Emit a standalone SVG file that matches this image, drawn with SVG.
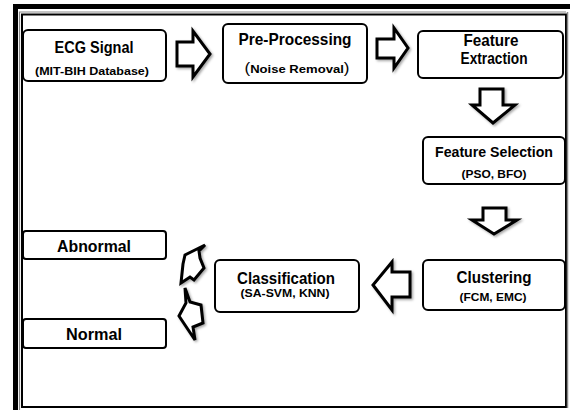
<svg xmlns="http://www.w3.org/2000/svg" width="570" height="410" viewBox="0 0 570 410">
<defs>
<style>
.box{fill:#fff;stroke:#000;stroke-width:2}
.arr{fill:#fff;stroke:#000;stroke-width:3;stroke-linejoin:miter;filter:url(#sh)}
.t{font-family:"Liberation Sans",Arial,sans-serif;font-weight:bold;fill:#000;text-anchor:middle}
.h{font-size:16.5px}
.s{font-size:11.5px}
</style>
<filter id="sh" x="-30%" y="-30%" width="160%" height="160%">
<feDropShadow dx="1.5" dy="1.5" stdDeviation="1" flood-color="#000" flood-opacity="0.35"/>
</filter>
</defs>
<rect width="570" height="410" fill="#fff"/>
<g id="frame">
<path d="M13,6.5 H570 M15.5,4 V410" fill="none" stroke="#000" stroke-width="5"/>
<path d="M19.5,410 V12 H566" fill="none" stroke="#888" stroke-width="1.2"/>
<rect x="22" y="14.5" width="544" height="392.5" fill="none" stroke="#000" stroke-width="2"/>
<path d="M567.5,12 V408" fill="none" stroke="#888" stroke-width="1.5"/>
</g>
<g id="connectors">
<polygon class="arr" points="177,42 193,42 193,31 210,54 193,77 193,66 177,66"/>
<polygon class="arr" points="377,39 394,39 394,28 408,48 394,68 394,58 377,58"/>
<polygon class="arr" points="480,89 503,89 503,105 515,105 493,123 472,105 480,105"/>
<polygon class="arr" points="483,208 506,208 506,220 517,220 494,234 472,220 483,220"/>
<polygon class="arr" points="410,272 392,272 392,262 373,285 392,310 392,297 410,297"/>
<polygon class="arr" points="205,245 185,255 183,264 181,283 190,277 194,280 204,268 200,258 199,251"/>
<polygon class="arr" points="185,288 190,302 201,305 203,323 193,327 195,340 179,316 186,303"/>
</g>
<g id="ecg">
<rect class="box" x="23" y="30" width="143" height="51" rx="5"/>
<text class="t h" x="94" y="53" textLength="79" lengthAdjust="spacingAndGlyphs">ECG Signal</text>
<text class="t s" x="92" y="75" textLength="114" lengthAdjust="spacingAndGlyphs">(MIT-BIH Database)</text>
</g>
<g id="preprocessing">
<rect class="box" x="223" y="24" width="144" height="59" rx="5"/>
<text class="t h" x="295" y="45" textLength="113" lengthAdjust="spacingAndGlyphs">Pre-Processing</text>
<text class="t s" x="297" y="73" textLength="105" lengthAdjust="spacingAndGlyphs"><tspan font-size="15" font-weight="normal">(</tspan>Noise  Removal<tspan font-size="15" font-weight="normal">)</tspan></text>
</g>
<g id="extraction">
<rect class="box" x="418" y="31" width="145" height="47" rx="5"/>
<text class="t h" x="491" y="46" textLength="55" lengthAdjust="spacingAndGlyphs">Feature</text>
<text class="t h" x="494" y="64" textLength="67" lengthAdjust="spacingAndGlyphs">Extraction</text>
</g>
<g id="selection">
<rect class="box" x="423" y="137" width="142" height="47" rx="5"/>
<text class="t" x="494" y="157" style="font-size:14px" textLength="118" lengthAdjust="spacingAndGlyphs">Feature Selection</text>
<text class="t s" x="494" y="178" textLength="65" lengthAdjust="spacingAndGlyphs">(PSO,  BFO)</text>
</g>
<g id="clustering">
<rect class="box" x="423" y="260" width="142" height="50" rx="5"/>
<text class="t h" x="494" y="283" textLength="75" lengthAdjust="spacingAndGlyphs">Clustering</text>
<text class="t s" x="493" y="301" textLength="67" lengthAdjust="spacingAndGlyphs">(FCM, EMC)</text>
</g>
<g id="classification">
<rect class="box" x="215" y="260" width="144" height="52" rx="5"/>
<text class="t h" x="286" y="284" textLength="98" lengthAdjust="spacingAndGlyphs">Classification</text>
<text class="t s" x="285" y="297" textLength="89" lengthAdjust="spacingAndGlyphs">(SA-SVM, KNN)</text>
</g>
<g id="abnormal">
<rect class="box" x="23" y="231" width="143" height="28" rx="3"/>
<text class="t h" x="94" y="252" textLength="74" lengthAdjust="spacingAndGlyphs">Abnormal</text>
</g>
<g id="normal">
<rect class="box" x="23" y="319" width="143" height="29" rx="3"/>
<text class="t h" x="94" y="340" textLength="56" lengthAdjust="spacingAndGlyphs">Normal</text>
</g>
</svg>
